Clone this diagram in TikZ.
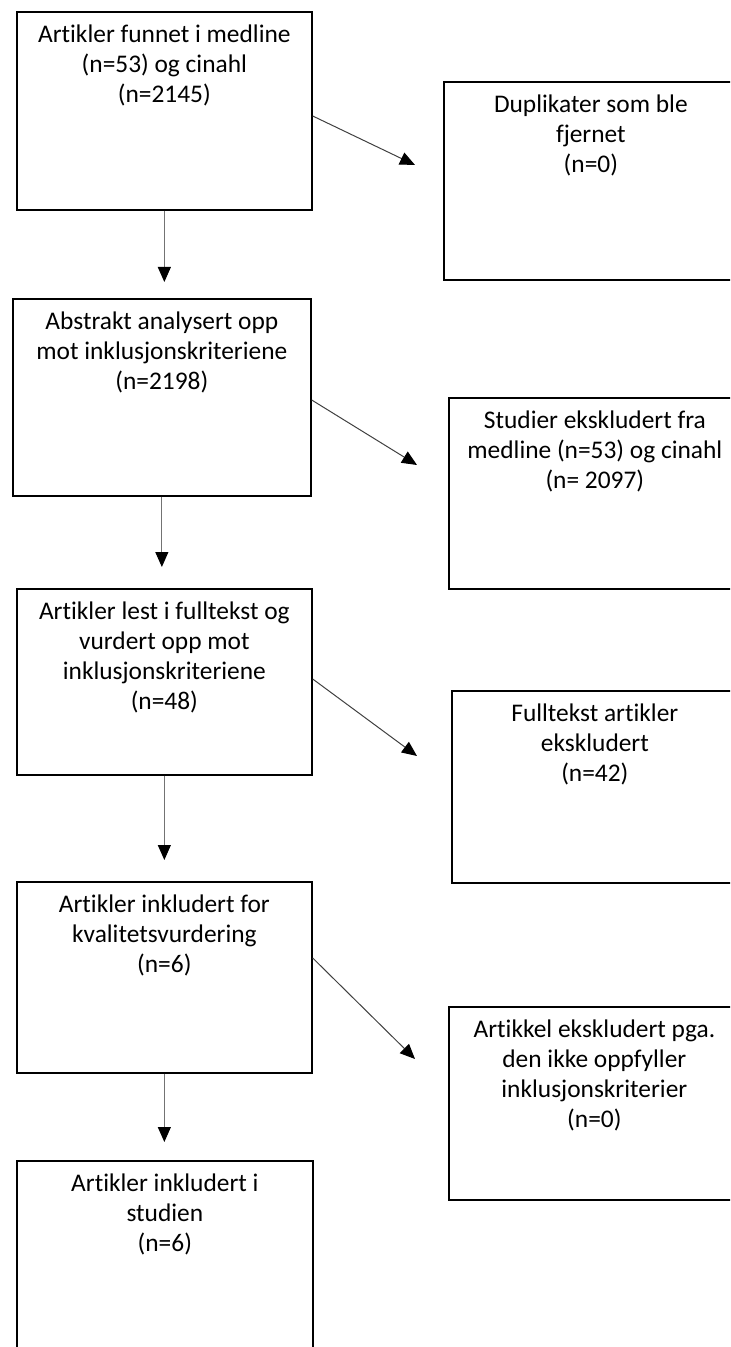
\documentclass[tikz,border=0pt]{standalone}
\usepackage{fontspec}
\setmainfont{Carlito}[Ligatures=NoCommon]
\usetikzlibrary{positioning,arrows.meta}

\tikzset{
  boks/.style={draw,line width=0.85pt,anchor=north west,inner sep=0pt},
  tekst/.style={align=center,inner sep=0pt,font=\fontsize{12.7}{15}\selectfont},
  pil/.style={draw=black!55,line width=0.5pt,-{Triangle[width=6.5pt,length=7.5pt,color=black]}},
}

\begin{document}
\begin{tikzpicture}[x=0.5pt,y=-0.5pt]
\clip (0,0) rectangle (730,1347);

% left column
\node[boks,minimum width=147.5pt,minimum height=99pt] (b1) at (16,11) {};
\node[boks,minimum width=149pt,minimum height=98.5pt] (b2) at (12,298) {};
\node[boks,minimum width=147.5pt,minimum height=93pt] (b3) at (16,588) {};
\node[boks,minimum width=147.5pt,minimum height=95.5pt] (b4) at (16,881) {};
\node[boks,minimum width=148pt,minimum height=110pt] (b5) at (16,1160) {};

\node[tekst,below=6.5pt of b1.north] (t1) {Artikler funnet i medline\\(n=53) og cinahl\\(n=2145)};
\node[tekst,below=6.5pt of b2.north] (t2) {Abstrakt analysert opp\\mot inklusjonskriteriene\\(n=2198)};
\node[tekst,below=6.5pt of b3.north] (t3) {Artikler lest i fulltekst og\\vurdert opp mot\\inklusjonskriteriene\\(n=48)};
\node[tekst,below=6.5pt of b4.north] (t4) {Artikler inkludert for\\kvalitetsvurdering\\(n=6)};
\node[tekst,below=6.5pt of b5.north] (t5) {Artikler inkludert i\\studien\\(n=6)};

% right column
\node[boks,minimum width=147pt,minimum height=99pt] (r1) at (443,81) {};
\node[boks,minimum width=146pt,minimum height=95.5pt] (r2) at (448,397) {};
\node[boks,minimum width=143pt,minimum height=96pt] (r3) at (451,690) {};
\node[boks,minimum width=145.5pt,minimum height=96.5pt] (r4) at (448,1006) {};

\node[tekst,below=6.5pt of r1.north] (s1) {Duplikater som ble\\fjernet\\(n=0)};
\node[tekst,below=6.5pt of r2.north] (s2) {Studier ekskludert fra\\medline (n=53) og cinahl\\(n= 2097)};
\node[tekst,below=6.5pt of r3.north] (s3) {Fulltekst artikler\\ekskludert\\(n=42)};
\node[tekst,below=6.5pt of r4.north] (s4) {Artikkel ekskludert pga.\\den ikke oppfyller\\inklusjonskriterier\\(n=0)};

% arrows down
\draw[pil,shorten >=8pt] (b1.south) -- (b1.south |- b2.north);
\draw[pil,shorten >=10.5pt] (b2.south) -- (b2.south |- b3.north);
\draw[pil,shorten >=10.5pt] (b3.south) -- (b3.south |- b4.north);
\draw[pil,shorten >=9pt] (b4.south) -- (b4.south |- b5.north);

% arrows to the side
\coordinate (p1) at ([shift={(-28,84)}]r1.north west);
\coordinate (p2) at ([shift={(-31,68)}]r2.north west);
\coordinate (p3) at ([shift={(-34,66)}]r3.north west);
\coordinate (p4) at ([shift={(-33,53)}]r4.north west);
\draw[pil,draw=black!75] ([yshift=-52.5pt]b1.north east) -- (p1);
\draw[pil,draw=black!75] ([yshift=-51pt]b2.north east) -- (p2);
\draw[pil,draw=black!75] ([yshift=-45.5pt]b3.north east) -- (p3);
\draw[pil,draw=black!75] ([yshift=-38.5pt]b4.north east) -- (p4);

\end{tikzpicture}
\end{document}
